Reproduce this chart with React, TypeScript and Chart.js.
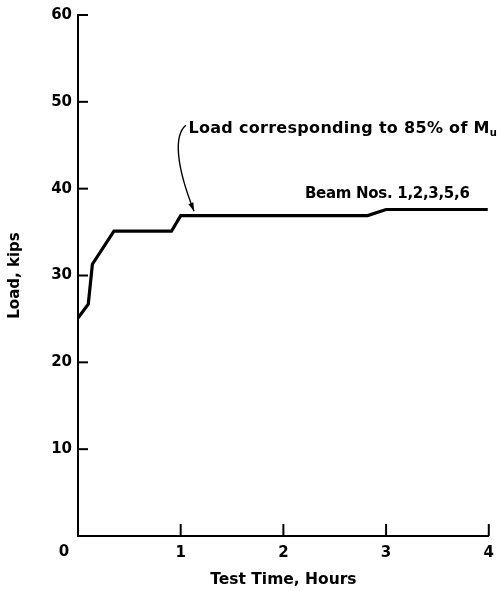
import React, { useEffect, useRef } from "react";
import { Chart, registerables } from "chart.js";

Chart.register(...registerables);

const timeHours = [0, 0.1, 0.14, 0.35, 0.91, 1.0, 2.82, 3.0, 3.99];
const loadKips = [25.1, 26.7, 31.3, 35.1, 35.1, 36.9, 36.9, 37.6, 37.6];
const xTickValues = [0, 1, 2, 3, 4];
const yTickValues = [0, 10, 20, 30, 40, 50, 60];
const annotationText = "Load corresponding to 85% of M";
const annotationSub = "u";
const seriesLabel = "Beam Nos. 1,2,3,5,6";
const xTitle = "Test Time, Hours";
const yTitle = "Load, kips";

const FONT = "'DejaVu Sans', sans-serif";

const overlay = {
  id: "overlay",
  afterDatasetsDraw(chart: any) {
    const { ctx } = chart;
    const xs = chart.scales.x;
    const ys = chart.scales.y;
    ctx.save();
    ctx.strokeStyle = "#000";
    ctx.lineWidth = 2;
    // inward ticks
    xTickValues.forEach((v) => {
      if (v === 0) return;
      const px = xs.getPixelForValue(v);
      ctx.beginPath();
      ctx.moveTo(px, ys.bottom);
      ctx.lineTo(px, ys.bottom - 12);
      ctx.stroke();
    });
    yTickValues.forEach((v) => {
      if (v === 0) return;
      const py = ys.getPixelForValue(v);
      ctx.beginPath();
      ctx.moveTo(xs.left, py);
      ctx.lineTo(xs.left + 10, py);
      ctx.stroke();
    });
    // origin label
    ctx.fillStyle = "#000";
    ctx.font = `bold 15px ${FONT}`;
    ctx.textAlign = "center";
    ctx.textBaseline = "middle";
    ctx.fillText("0", xs.left - 14, ys.bottom + 16);

    // annotation text
    ctx.textAlign = "left";
    (ctx as any).letterSpacing = "0.3px";
    ctx.font = `bold 16px ${FONT}`;
    const ax = xs.getPixelForValue(1.075);
    const ay = ys.getPixelForValue(46.9);
    ctx.fillText(annotationText, ax, ay);
    const w = ctx.measureText(annotationText).width;
    ctx.font = `bold 10px ${FONT}`;
    (ctx as any).letterSpacing = "0px";
    ctx.fillText(annotationSub, ax + w, ay + 5);

    // series label
    ctx.font = `bold 15px ${FONT}`;
    (ctx as any).letterSpacing = "-0.3px";
    ctx.fillText(seriesLabel, xs.getPixelForValue(2.21), ys.getPixelForValue(39.4));
    (ctx as any).letterSpacing = "0px";

    // curved arrow
    const sx = xs.getPixelForValue(1.05);
    const sy = ys.getPixelForValue(47.3);
    const tx = xs.getPixelForValue(1.13);
    const ty = ys.getPixelForValue(37.4);
    ctx.lineWidth = 1.4;
    ctx.beginPath();
    ctx.moveTo(sx, sy);
    ctx.bezierCurveTo(sx - 12, sy + 10, sx - 10, sy + 40, tx, ty);
    ctx.stroke();
    // arrowhead
    const ang = Math.atan2(ty - (sy + 40), tx - (sx - 10));
    const L = 9;
    ctx.beginPath();
    ctx.moveTo(tx, ty);
    ctx.lineTo(tx - L * Math.cos(ang - 0.3), ty - L * Math.sin(ang - 0.3));
    ctx.lineTo(tx - L * Math.cos(ang + 0.3), ty - L * Math.sin(ang + 0.3));
    ctx.closePath();
    ctx.fill();
    ctx.restore();
  },
};

export default function App() {
  const ref = useRef<HTMLCanvasElement | null>(null);
  useEffect(() => {
    document.body.style.margin = "0";
    const chart = new Chart(ref.current as HTMLCanvasElement, {
      type: "scatter",
      data: {
        datasets: [
          {
            label: seriesLabel,
            data: timeHours.map((t, i) => ({ x: t, y: loadKips[i] })),
            showLine: true,
            borderColor: "#000",
            borderWidth: 3.2,
            pointRadius: 0,
            tension: 0,
            borderJoinStyle: "miter",
          } as any,
        ],
      },
      options: {
        responsive: false,
        animation: false,
        layout: { padding: { top: 15, right: 8, left: 0, bottom: 0 } },
        plugins: { legend: { display: false }, tooltip: { enabled: false } },
        scales: {
          x: {
            type: "linear",
            min: 0,
            max: 4,
            afterBuildTicks: (s: any) => {
              s.ticks = xTickValues.map((v) => ({ value: v }));
            },
            afterFit: (s: any) => {
              s.height = 55;
            },
            grid: { display: false, drawTicks: false },
            border: { display: true, color: "#000", width: 2 },
            ticks: {
              color: "#000",
              font: { family: FONT, size: 15, weight: "bold" },
              padding: 8,
              maxRotation: 0,
              callback: (v: any) => (v === 0 ? "" : String(v)),
            },
            title: {
              display: true,
              text: xTitle,
              color: "#000",
              font: { family: FONT, size: 15.5, weight: "bold" },
              padding: { top: 4, bottom: 2 },
            },
          },
          y: {
            type: "linear",
            min: 0,
            max: 60,
            afterBuildTicks: (s: any) => {
              s.ticks = yTickValues.map((v) => ({ value: v }));
            },
            afterFit: (s: any) => {
              s.width = 78;
            },
            grid: { display: false, drawTicks: false },
            border: { display: true, color: "#000", width: 2 },
            ticks: {
              color: "#000",
              font: { family: FONT, size: 15, weight: "bold" },
              padding: 6,
              callback: (v: any) => (v === 0 ? "" : String(v)),
            },
            title: {
              display: true,
              text: yTitle,
              color: "#000",
              font: { family: FONT, size: 15, weight: "bold" },
              padding: { top: 6, bottom: 0 },
            },
          },
        },
      },
      plugins: [overlay],
    });
    return () => chart.destroy();
  }, []);
  return (
    <div style={{ position: "absolute", left: 0, top: 0, width: 502, height: 591, background: "#fff" }}>
      <canvas ref={ref} width={502} height={591} />
    </div>
  );
}
